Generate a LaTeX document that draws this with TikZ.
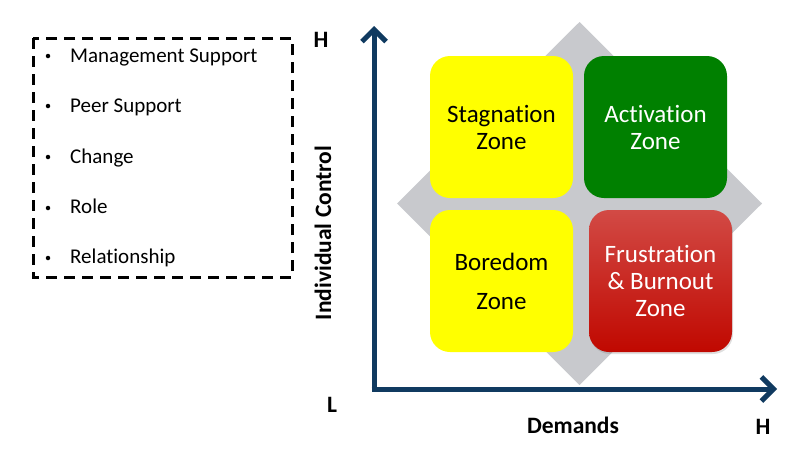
\documentclass[tikz,border=0pt]{standalone}
\usepackage{fontspec}
\setmainfont{Carlito}[Ligatures=NoCommon]
\usetikzlibrary{arrows.meta,shadows}
\definecolor{navy}{RGB}{16,58,96}
\definecolor{diam}{RGB}{200,201,205}
\definecolor{zyellow}{RGB}{255,255,0}
\definecolor{zgreen}{RGB}{0,128,0}
\definecolor{redtop}{RGB}{210,74,69}
\definecolor{redbot}{RGB}{192,8,0}
\tikzset{
  zone/.style={rounded corners=20pt, minimum width=143pt, minimum height=142pt, inner sep=0pt,
    align=center, font=\fontsize{25}{27}\selectfont},
  item/.style={anchor=base west, font=\fontsize{21}{24}\selectfont, inner sep=0pt},
  bul/.style={circle, fill=black, inner sep=0pt, minimum size=4.5pt},
  axis/.style={navy, line width=5pt, -{Straight Barb[length=12pt,width=24pt]}},
  axlabel/.style={font=\bfseries\fontsize{23.5}{26}\selectfont, inner sep=0pt}
}
\begin{document}
\begin{tikzpicture}[x=1pt,y=-1pt]
\useasboundingbox (0,0) rectangle (800,469);
% list box
\draw[line width=3pt, dash pattern=on 11pt off 7pt] (33,38) rectangle (292,277);
\node[bul] (b1) at (48,56) {};
\node[bul] (b2) at (48,106) {};
\node[bul] (b3) at (48,157) {};
\node[bul] (b4) at (48,208) {};
\node[bul] (b5) at (48,258) {};
\node[item] (t1) at (70,62) {Management Support};
\node[item] (t2) at (70,112) {Peer Support};
\node[item] (t3) at (70,163) {Change};
\node[item] (t4) at (70,213) {Role};
\node[item] (t5) at (70,263) {Relationship};
% diamond
\fill[diam] (579.5,22) -- (762,203.5) -- (579.5,385) -- (397,203.5) -- cycle;
% zones
\node[zone, fill=zyellow, text=black] (stag) at (501.5,127) {Stagnation\\Zone};
\node[zone, fill=zgreen, text=white] (act) at (655.5,127) {Activation\\Zone};
\node[zone, fill=zyellow, text=black] (bore) at (501.5,281) {Boredom\\[12pt]Zone};
\node[zone, top color=redtop, bottom color=redbot, text=white,
  drop shadow={opacity=0.25, shadow xshift=1pt, shadow yshift=-2pt}] (frus) at (660.5,281) {Frustration\\\& Burnout\\Zone};
% axes
\coordinate (o) at (374,389);
\coordinate (ytop) at (374,26);
\coordinate (xend) at (777,389);
\draw[axis] (o) -- (ytop);
\draw[axis] ([xshift=-2.5pt]o) -- (xend);
% labels
\node[axlabel] (hy) at (321,40) {H};
\node[axlabel] (lo) at (332,405) {L};
\node[axlabel] (dem) at (573,425) {Demands};
\node[axlabel] (hx) at (763,427) {H};
\node[axlabel, rotate=90] (ic) at (323,233) {Individual Control};
\end{tikzpicture}
\end{document}
